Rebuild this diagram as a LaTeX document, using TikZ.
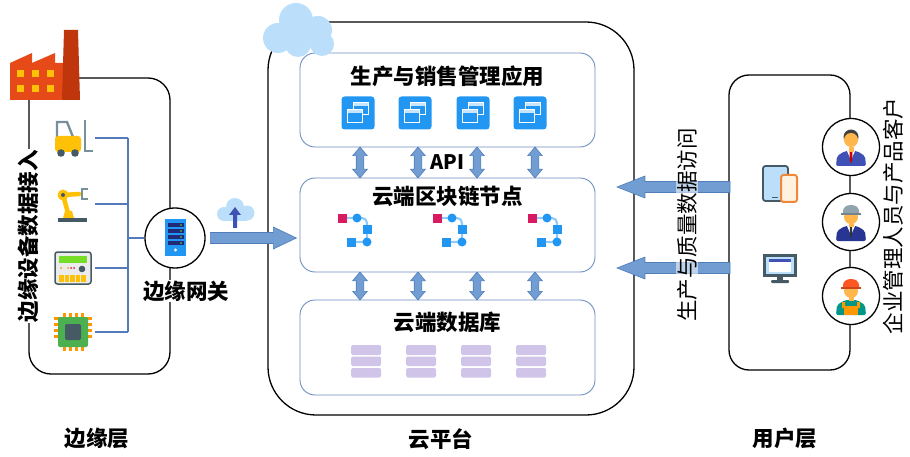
\documentclass[tikz,border=0pt]{standalone}
\usepackage{fontspec}
\setmainfont{Noto Sans CJK SC}
\usetikzlibrary{shapes,shapes.arrows,positioning,calc}

\definecolor{panelline}{RGB}{108,142,191}
\definecolor{arrowfill}{RGB}{113,157,210}
\definecolor{arrowline}{RGB}{79,125,186}
\definecolor{wireblue}{RGB}{84,122,186}
\definecolor{iconblue}{RGB}{33,150,243}
\definecolor{lightblue}{RGB}{187,222,251}
\definecolor{linkblue}{RGB}{144,202,249}
\definecolor{linkpink}{RGB}{216,27,96}
\definecolor{dbpurple}{RGB}{209,196,233}
\definecolor{indigo}{RGB}{63,81,181}
\definecolor{navy}{RGB}{40,53,147}
\definecolor{factoryred}{RGB}{230,74,25}
\definecolor{chimneyred}{RGB}{191,54,12}
\definecolor{amber}{RGB}{255,193,7}
\definecolor{slate}{RGB}{69,90,100}
\definecolor{bluegrey}{RGB}{120,144,156}
\definecolor{skin}{RGB}{255,183,77}
\definecolor{hair}{RGB}{66,66,66}
\definecolor{helmetgrey}{RGB}{144,164,174}
\definecolor{helmetred}{RGB}{255,87,34}
\definecolor{teal}{RGB}{0,150,136}
\definecolor{chipgreen}{RGB}{76,175,80}
\definecolor{pinorange}{RGB}{255,152,0}
\definecolor{phoneorange}{RGB}{240,136,58}
\definecolor{cream}{RGB}{255,243,224}
\definecolor{screengreen}{RGB}{118,221,40}

\tikzset{
  layer/.style={draw=black, line width=1.3pt},
  panel/.style={draw=panelline, line width=0.9pt, rounded corners=15pt,
    minimum width=295pt},
  title/.style={font=\bfseries\fontsize{21.5}{22}\selectfont, inner sep=1pt},
  sidetext/.style={font=\fontsize{21.5}{22}\selectfont, rotate=90, inner sep=1pt},
  wire/.style={draw=wireblue, line width=1.3pt},
  apiarrow/.style={double arrow, draw=arrowline, fill=arrowfill, line width=0.6pt,
    inner sep=3.5pt, double arrow head extend=3.5pt,
    double arrow tip angle=80, shape border rotate=90},
  fatarrow/.style={single arrow, draw=arrowline, fill=arrowfill, line width=0.6pt,
    inner xsep=0pt, inner ysep=5.2pt, single arrow head extend=5.5pt},
  avatar/.style={circle, draw=black, fill=white, line width=1.3pt, minimum size=57pt}
}

\begin{document}
\begin{tikzpicture}[x=1pt, y=-1pt]
  \useasboundingbox (0,0) rectangle (910,457);

  % three layers
  \node [layer, rounded corners=22pt, minimum width=141pt, minimum height=296pt]
    (edge) at (99.5,226) {};
  \node [layer, rounded corners=48pt, minimum width=366pt, minimum height=393pt]
    (cloud) at (451,218.5) {};
  \node [layer, rounded corners=20pt, minimum width=121pt, minimum height=295pt]
    (user) at (789.5,222.5) {};

  \node [panel, minimum height=94pt] (app)   at (447.5,100) {};
  \node [panel, minimum height=94pt] (chain) at (447.5,225) {};
  \node [panel, minimum height=95pt] (db)    at (447.5,347.5) {};

  \node [title] (apptitle)   at ($(app.north)+(0,24)$)   {生产与销售管理应用};
  \node [title] (chaintitle) at ($(chain.north)+(0,19)$) {云端区块链节点};
  \node [title] (dbtitle)    at ($(db.north)+(0,23)$)    {云端数据库};

  % cloud over the corner of the platform
  \fill [lightblue] (278,38) circle (15) (296,20) circle (17) (318,30) circle (14)
    (322,44) circle (12) (298,44) circle (13);

  % application windows
  \foreach \cx in {358,415,473,530} {
    \begin{scope}[shift={(\cx,113)}]
      \fill [iconblue, rounded corners=3pt] (-16.5,-16.5) rectangle (16.5,16.5);
      \draw [white, line width=1pt, fill=iconblue] (-5,-10) rectangle (10,2);
      \fill [white!75!iconblue] (-4.5,-9.5) rectangle (9.5,-6.5);
      \draw [white, line width=1pt, fill=iconblue] (-11,-3) rectangle (4,10);
      \fill [white!75!iconblue] (-10.5,-2.5) rectangle (3.5,0.5);
    \end{scope}
  }

  % block chain links
  \foreach \bx in {338,433,528} {
    \begin{scope}[shift={(\bx,0)}]
      \draw [linkblue, line width=2.2pt, rounded corners=5pt]
        (5,218) -- (29,218) -- (29,242) -- (14,242);
      \fill [linkpink] (0,214) rectangle (9,223);
      \fill [iconblue] (19,218) circle (4.5);
      \fill [iconblue] (24.5,225) rectangle (33.5,234);
      \fill [iconblue] (29,242) circle (4.5);
      \fill [iconblue] (9,237.5) rectangle (18,246.5);
    \end{scope}
  }

  % database tables
  \foreach \dx in {366,421,476,531} {
    \fill [dbpurple, rounded corners=1.5pt] (\dx-15,345) rectangle (\dx+15,355);
    \fill [dbpurple, rounded corners=1.5pt] (\dx-15,356.5) rectangle (\dx+15,366);
    \fill [dbpurple, rounded corners=1.5pt] (\dx-15,368) rectangle (\dx+15,377.5);
  }

  \foreach \dx in {-87.5,-29.5,29.5,87.5} {
    \node [apiarrow, minimum height=31pt] at ($(app.south)!0.5!(chain.north)+(\dx,0)$) {};
    \node [apiarrow, minimum height=28pt] at ($(chain.south)!0.5!(db.north)+(\dx,0)$) {};
  }
  \node [font=\bfseries\fontsize{20}{20}\selectfont, inner sep=1pt] (api)
    at ($(app.south)!0.5!(chain.north)$) {API};

  % edge devices
  \fill [factoryred] (10,100) -- (10,63) -- (32,53) -- (32,63) -- (55,53)
    -- (55,63) -- (63,63) -- (63,100) -- cycle;
  \fill [chimneyred] (62,100) -- (64,30) -- (78,30) -- (80,100) -- cycle;
  \foreach \wx in {17,32,47}
    \foreach \wy in {70,85}
      \fill [amber] (\wx,\wy) rectangle ++(7,7);

  % forklift
  \draw [bluegrey, line width=2.4pt] (57,140) -- (57,122) -- (67,122) -- (73,137);
  \draw [bluegrey, line width=2.4pt] (85,120) -- (85,151) -- (93,151);
  \fill [amber, rounded corners=3pt] (55,136) rectangle (81,152);
  \fill [slate] (61,153) circle (3.8) (75,153) circle (3.8);

  % robot arm
  \fill [slate] (58,218) rectangle (87,222);
  \fill [amber] (63,218) -- (65,211) -- (72,211) -- (74,218) -- cycle;
  \draw [amber, line width=4.5pt, line cap=round] (68,213) -- (63,195) -- (79,194);
  \fill [amber] (63,195) circle (5.5);
  \fill [slate] (63,195) circle (2);
  \draw [bluegrey, line width=2.4pt] (88,189) -- (82,189) -- (82,199) -- (88,199);

  % meter
  \draw [slate, line width=1.5pt, fill=black!8, rounded corners=2.5pt] (55,252) rectangle (91,284);
  \fill [screengreen] (59,256) rectangle (87,263);
  \fill [pinorange] (61,268) circle (1) (68,268) circle (1);
  \fill [linkpink] (71,268) circle (1) (74,268) circle (1);
  \fill [slate] (82,269) circle (3.3);
  \foreach \tx in {59,64.5,70,75.5,81}
    \fill [amber] (\tx,274.5) rectangle ++(4.5,7.5);

  % chip
  \foreach \px in {64.5,70.5,76.5,82.5} {
    \fill [pinorange] (\px-1.5,313) rectangle (\px+1.5,351);
    \fill [pinorange] (54,\px+252.5) rectangle (92,\px+255.5);
  }
  \fill [chipgreen, rounded corners=2pt] (58,317) rectangle (88,347);
  \fill [slate, rounded corners=2pt] (65,324) rectangle (81,340);

  % wiring towards the gateway
  \coordinate (dev1) at (95,138);
  \coordinate (dev2) at (95,204);
  \coordinate (dev3) at (95,268);
  \coordinate (dev4) at (95,332);
  \coordinate (bus) at (128,238);
  \foreach \i in {1,...,4}
    \draw [wire] (dev\i) -- (dev\i -| bus);
  \draw [wire] (dev1 -| bus) -- (dev4 -| bus);

  \node [avatar, minimum size=60pt] (gw) at (175,238) {};
  \draw [wire] (bus) -- (gw);
  \fill [iconblue] (165,219) rectangle (186,256);
  \foreach \sy in {223,229,235,241} {
    \fill [navy!80!black] (167.5,\sy) rectangle (183.5,\sy+4);
    \fill [screengreen] (181,\sy+2) circle (0.9);
  }
  \fill [white] (175.5,250) circle (1.6);

  \node [title, fill=white] (gwlabel) at (186,291) {边缘网关};
  \node [sidetext, font=\bfseries\fontsize{21.5}{22}\selectfont, fill=white]
    (edgetext) at (28,236) {边缘设备数据接入};

  % upload
  \fill [lightblue] (224,214) circle (7) (235,207) circle (9) (247,213) circle (7.5);
  \fill [lightblue] (224,212) rectangle (247,221);
  \fill [indigo] (233,228) -- (233,215) -- (229,215) -- (235,207) -- (241,215)
    -- (237,215) -- (237,228) -- cycle;
  \node [fatarrow, minimum height=86pt, single arrow tip angle=51] (uplink)
    at ($(gw.east)+(42,0)$) {};

  % user devices
  \draw [slate, line width=1.8pt, fill=lightblue, rounded corners=2.5pt] (763,166) rectangle (788,201);
  \draw [slate, line width=1.5pt] (772,197.5) -- (778,197.5);
  \draw [phoneorange, line width=2pt, fill=cream, rounded corners=2.5pt] (781,175) rectangle (797,202);
  \fill [slate] (763,254) rectangle (797,277);
  \fill [lightblue] (766,257) rectangle (794,274);
  \fill [white] (769,259) rectangle (791,272);
  \fill [indigo] (769,259) rectangle (791,262);
  \fill [slate] (777,277) rectangle (783,281);
  \fill [slate, rounded corners=1pt] (771,280) rectangle (789,283);

  \node [fatarrow, minimum height=113pt, single arrow head extend=5.5pt,
    single arrow tip angle=43, shape border rotate=180] (access1) at (680.5,187) {};
  \node [fatarrow, minimum height=113pt, single arrow head extend=5.5pt,
    single arrow tip angle=43, shape border rotate=180] (access2) at (680.5,268) {};
  \node [sidetext, fill=white, fill opacity=0.55, text opacity=1]
    (accesstext) at (687,225) {生产与质量数据访问};

  % users
  \node [avatar] (boss) at (851,147) {};
  \node [avatar] (staff) at (851,222) {};
  \node [avatar] (worker) at (851,296) {};

  \begin{scope}[shift={(boss.center)}]
    \fill [indigo, rounded corners=2pt] (-15,19) -- (-14,9) -- (-6,4) -- (6,4)
      -- (14,9) -- (15,19) -- cycle;
    \fill [white] (-4,4) -- (4,4) -- (0,13) -- cycle;
    \fill [red!80!black] (-1.5,5) -- (1.5,5) -- (1,14) -- (0,16) -- (-1,14) -- cycle;
    \fill [skin] (-2.5,0) rectangle (2.5,5);
    \fill [hair] (0,-10) circle (7.5);
    \fill [skin] (0,-7) circle (7);
  \end{scope}
  \begin{scope}[shift={(staff.center)}]
    \fill [navy, rounded corners=2pt] (-15,19) -- (-14,9) -- (-6,4) -- (6,4)
      -- (14,9) -- (15,19) -- cycle;
    \fill [white] (-4,4) -- (4,4) -- (0,13) -- cycle;
    \fill [black!80] (-1.2,5) -- (1.2,5) -- (0.8,14) -- (0,16) -- (-0.8,14) -- cycle;
    \fill [skin] (-2.5,0) rectangle (2.5,5);
    \fill [skin] (0,-5) circle (7);
    \fill [helmetgrey] (-8,-8) -- (-8,-11) .. controls (-8,-19) and (8,-19) .. (8,-11)
      -- (8,-8) -- cycle;
    \fill [helmetgrey!80!black] (-10,-9) rectangle (10,-7);
  \end{scope}
  \begin{scope}[shift={(worker.center)}]
    \fill [teal, rounded corners=2pt] (-15,19) -- (-14,9) -- (-6,4) -- (6,4)
      -- (14,9) -- (15,19) -- cycle;
    \fill [pinorange] (-7,10) rectangle (7,19);
    \fill [pinorange] (-9,6) rectangle (-6,12) (6,6) rectangle (9,12);
    \fill [skin] (-2.5,0) rectangle (2.5,5);
    \fill [skin] (0,-5) circle (7);
    \fill [helmetred] (-8,-8) -- (-8,-11) .. controls (-8,-19) and (8,-19) .. (8,-11)
      -- (8,-8) -- cycle;
    \fill [helmetred!80!black] (-10,-9) rectangle (10,-7);
  \end{scope}

  \node [sidetext] (usertext) at (893,216) {企业管理人员与产品客户};

  % layer names
  \node [title] at (97,438) {边缘层};
  \node [title] at (441,439) {云平台};
  \node [title] at (785,438) {用户层};
\end{tikzpicture}
\end{document}
